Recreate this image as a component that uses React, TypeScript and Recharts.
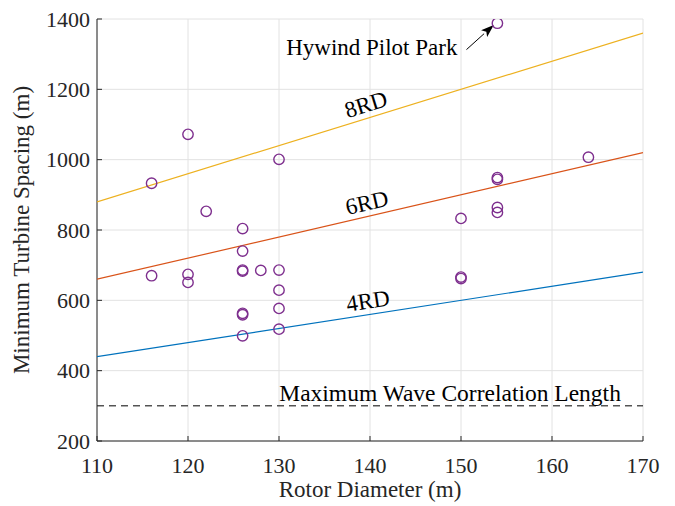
import React from 'react';
import {
  ComposedChart,
  Scatter,
  XAxis,
  YAxis,
  CartesianGrid,
  ReferenceLine,
  ReferenceDot,
} from 'recharts';

// scatter points
const rotorDiameter = [116, 116, 120, 120, 120, 122, 126, 126, 126, 126, 126, 126, 126, 128, 130, 130, 130, 130, 130, 150, 150, 150, 154, 154, 154, 154, 164, 154];
const turbineSpacing = [933, 670, 1072, 674, 651, 853, 804, 740, 686, 683, 563, 559, 499, 685, 1001, 686, 629, 577, 518, 833, 666, 662, 949, 944, 864, 850, 1007, 1388];

// spacing guide lines: k rotor diameters
const lineDiameters = [110, 170];
const rdMultiples = [4, 6, 8];
const rdColors = ['#0072BD', '#D95319', '#EDB120'];
const rdAngles = [-8.8, -13, -17.2];

const xTicks = [110, 120, 130, 140, 150, 160, 170];
const yTicks = [200, 400, 600, 800, 1000, 1200, 1400];
const waveCorrelationLength = 300;

const FONT = '"Liberation Serif", "Times New Roman", serif';
const AXIS = '#262626';

const points = rotorDiameter.map((x, i) => ({ x, y: turbineSpacing[i] }));
const rdLines = rdMultiples.map((k) => lineDiameters.map((x) => ({ x, y: k * x })));

const Circle = (p: any) => (
  <circle cx={p.cx} cy={p.cy} r={5.2} fill="none" stroke="#7E2F8E" strokeWidth={1.4} />
);

const Nothing = () => <g />;

const textAt = (label: string, angle: number, dy: number, size = 23) => (p: any) => (
  <text
    x={p.cx}
    y={p.cy + dy}
    textAnchor="middle"
    fontFamily={FONT}
    fontSize={size}
    fill="#000"
    transform={angle ? `rotate(${angle} ${p.cx} ${p.cy})` : undefined}
  >
    {label}
  </text>
);

const Arrow = (p: any) => {
  const { x1, y1, x2, y2 } = p;
  const a = Math.atan2(y2 - y1, x2 - x1);
  const len = 13;
  const w = 4.5;
  const bx = x2 - len * Math.cos(a);
  const by = y2 - len * Math.sin(a);
  const px = -Math.sin(a) * w;
  const py = Math.cos(a) * w;
  return (
    <g>
      <line x1={x1} y1={y1} x2={bx} y2={by} stroke="#000" strokeWidth={1} />
      <polygon points={`${x2},${y2} ${bx + px},${by + py} ${x2 - (len - 3) * Math.cos(a)},${y2 - (len - 3) * Math.sin(a)} ${bx - px},${by - py}`} fill="#000" />
    </g>
  );
};

export default function App() {
  const tickStyle = { fontFamily: FONT, fontSize: 22, fill: AXIS };
  return (
    <div style={{ position: 'absolute', left: 0, top: 0, width: 675, height: 506, background: '#fff' }}>
      <ComposedChart width={675} height={506} margin={{ top: 19, right: 32, bottom: 0, left: 0 }}>
        <CartesianGrid stroke="#e2e2e2" />
        <XAxis
          type="number"
          dataKey="x"
          domain={[110, 170]}
          ticks={xTicks}
          height={65}
          tickSize={-5}
          tickMargin={21}
          tick={tickStyle}
          stroke={AXIS}
          allowDataOverflow
        />
        <XAxis
          xAxisId="top"
          orientation="top"
          type="number"
          dataKey="x"
          domain={[110, 170]}
          ticks={xTicks}
          height={0}
          tickSize={-5}
          tick={false}
          stroke={AXIS}
        />
        <YAxis
          type="number"
          dataKey="y"
          domain={[200, 1400]}
          ticks={yTicks}
          width={97}
          tickSize={-5}
          tickMargin={12}
          tick={tickStyle}
          stroke={AXIS}
          allowDataOverflow
        />
        <YAxis
          yAxisId="right"
          orientation="right"
          type="number"
          dataKey="y"
          domain={[200, 1400]}
          ticks={yTicks}
          width={0}
          tickSize={-5}
          tick={false}
          stroke={AXIS}
        />

        <ReferenceLine y={waveCorrelationLength} stroke="#000" strokeWidth={1} strokeDasharray="7 5" />

        {rdLines.map((d, i) => (
          <Scatter
            key={rdMultiples[i]}
            data={d}
            line={{ stroke: rdColors[i], strokeWidth: 1.2 }}
            shape={Nothing}
            isAnimationActive={false}
            legendType="none"
          />
        ))}

        <Scatter data={points} shape={Circle} isAnimationActive={false} />

        {rdMultiples.map((k, i) => (
          <ReferenceDot
            key={`lbl${k}`}
            x={140}
            y={k * 140}
            r={0}
            shape={textAt(`${k}RD`, rdAngles[i], -6)}
          />
        ))}

        <ReferenceDot x={140.2} y={1298} r={0} shape={textAt('Hywind Pilot Park', 0, 0)} />
        <ReferenceLine
          segment={[
            { x: 150.6, y: 1313 },
            { x: 153.6, y: 1383 },
          ]}
          shape={Arrow}
        />
        <ReferenceDot
          x={148.8}
          y={waveCorrelationLength}
          r={0}
          shape={textAt('Maximum Wave Correlation Length', 0, -5, 23.5)}
        />

        <text x={370} y={497} textAnchor="middle" fontFamily={FONT} fontSize={23} fill={AXIS}>
          Rotor Diameter (m)
        </text>
        <text
          x={29}
          y={230}
          textAnchor="middle"
          fontFamily={FONT}
          fontSize={23}
          fill={AXIS}
          transform="rotate(-90 29 230)"
        >
          Minimum Turbine Spacing (m)
        </text>
      </ComposedChart>
    </div>
  );
}
